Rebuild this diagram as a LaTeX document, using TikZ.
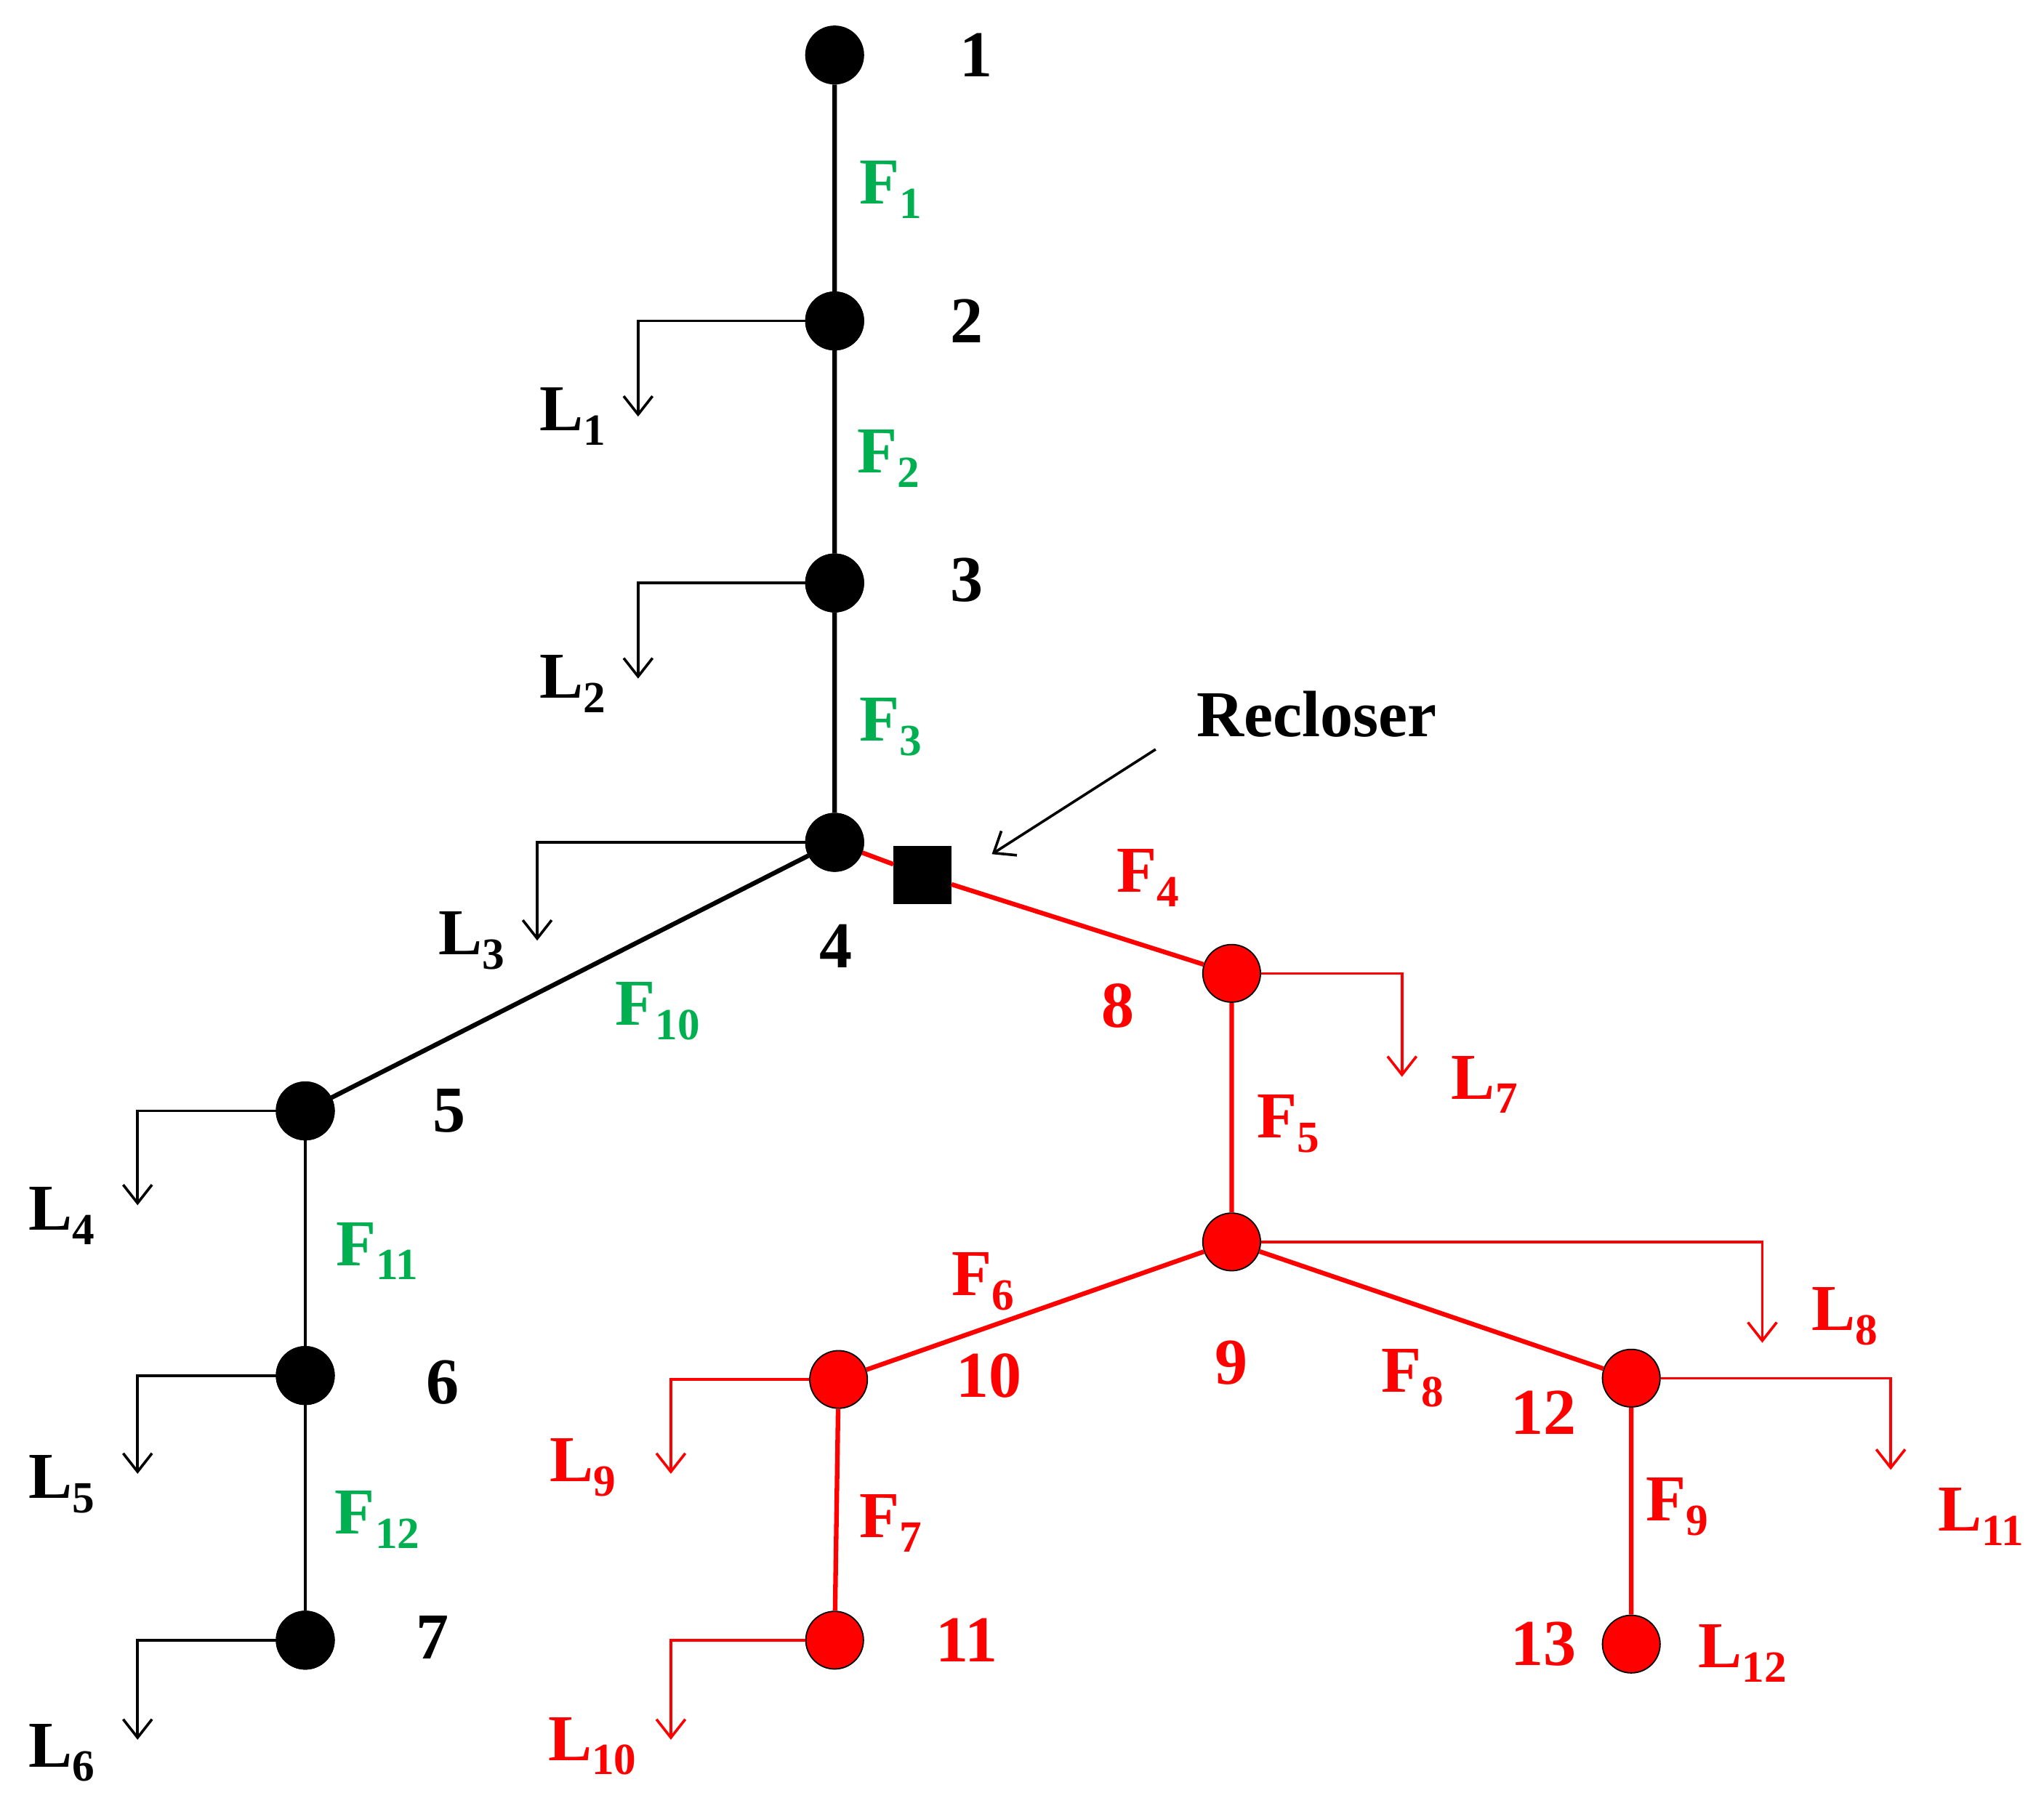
\documentclass[tikz,border=0pt]{standalone}
\usepackage{fontspec}
\setmainfont{Liberation Serif}
\usetikzlibrary{arrows.meta}
\definecolor{gr}{RGB}{0,176,80}
\definecolor{rd}{RGB}{255,0,0}
\newcommand{\lsub}[1]{\raisebox{-0.22em}{\fontsize{34}{40}\selectfont #1}}
\begin{document}
\begin{tikzpicture}[x=1pt,y=-1pt,
  bus/.style={circle,fill=black,draw=black,line width=1pt,minimum size=44pt,inner sep=0pt},
  rbus/.style={circle,fill=rd,draw=black,line width=1pt,minimum size=44pt,inner sep=0pt},
  lbl/.style={font=\fontsize{50}{60}\selectfont\bfseries,inner sep=0pt},
  main/.style={line width=3.5pt},
  load/.style={line width=2pt,-{Straight Barb[length=14pt,width=22pt,line width=2pt]}}]
\useasboundingbox (0,0) rectangle (1560,1372);
% buses
\node[bus] (n1) at (637,42) {};
\node[bus] (n2) at (637,245) {};
\node[bus] (n3) at (637,445) {};
\node[bus] (n4) at (637,643) {};
\node[bus] (n5) at (233,848) {};
\node[bus] (n6) at (233,1050) {};
\node[bus] (n7) at (233,1252) {};
\node[rbus] (n8) at (940,743) {};
\node[rbus] (n9) at (940,948) {};
\node[rbus] (n10) at (640,1053) {};
\node[rbus] (n11) at (637,1252) {};
\node[rbus] (n12) at (1245,1052) {};
\node[rbus] (n13) at (1245,1255) {};
\node[fill=black,minimum size=44pt,inner sep=0pt] (rc) at (704,668) {};
% lines
\draw[main] (n1)--(n2) (n2)--(n3) (n3)--(n4) (n4)--(n5);
\draw[line width=2pt] (n5)--(n6) (n6)--(n7);
\draw[main,rd] (n4)--(rc) (rc)--(n8) (n8)--(n9) (n9)--(n10) (n10)--(n11) (n9)--(n12) (n12)--(n13);
% loads
\coordinate (a1) at (487,318); \coordinate (a2) at (487,518); \coordinate (a3) at (410,718);
\coordinate (a4) at (105,920); \coordinate (a5) at (105,1125); \coordinate (a6) at (105,1328);
\coordinate (a7) at (1070,822); \coordinate (a8) at (1345,1025); \coordinate (a9) at (512,1125);
\coordinate (a10) at (512,1328); \coordinate (a11) at (1443,1122);
\draw[load] (n2.center) -| (a1);
\draw[load] (n3.center) -| (a2);
\draw[load] (n4.center) -| (a3);
\draw[load] (n5.center) -| (a4);
\draw[load] (n6.center) -| (a5);
\draw[load] (n7.center) -| (a6);
\draw[load,rd] (n8) -| (a7);
\draw[load,rd] (n9) -| (a8);
\draw[load,rd] (n10) -| (a9);
\draw[load,rd] (n11) -| (a10);
\draw[load,rd] (n12) -| (a11);
\node[bus] at (n2) {}; \node[bus] at (n3) {}; \node[bus] at (n4) {};
\node[bus] at (n5) {}; \node[bus] at (n6) {}; \node[bus] at (n7) {};
% recloser
\node[lbl] (rt) at (1005,545) {Recloser};
\coordinate (rs) at (882,572);
\draw[line width=2pt,-{Straight Barb[length=14pt,width=22pt,line width=2pt]}] (rs) -- (757,652);
% bus numbers
\node[lbl] (t1) at (745,42) {1};
\node[lbl] (t2) at (738,245) {2};
\node[lbl] (t3) at (738,443) {3};
\node[lbl] (t4) at (638,722) {4};
\node[lbl] (t5) at (343,848) {5};
\node[lbl] (t6) at (338,1055) {6};
\node[lbl] (t7) at (330,1250) {7};
\begin{scope}[rd]
\node[lbl] (t8) at (853,768) {8};
\node[lbl] (t9) at (940,1040) {9};
\node[lbl] (t10) at (755,1050) {10};
\node[lbl] (t11) at (738,1252) {11};
\node[lbl] (t12) at (1178,1078) {12};
\node[lbl] (t13) at (1178,1255) {13};
\end{scope}
% F labels
\begin{scope}[gr]
\node[lbl] (f1) at (680,145) {F\lsub{1}};
\node[lbl] (f2) at (678,350) {F\lsub{2}};
\node[lbl] (f3) at (680,555) {F\lsub{3}};
\node[lbl] (f10) at (502,772) {F\lsub{10}};
\node[lbl] (f11) at (288,955) {F\lsub{11}};
\node[lbl] (f12) at (288,1160) {F\lsub{12}};
\end{scope}
\begin{scope}[rd]
\node[lbl] (f4) at (876,670) {F\lsub{4}};
\node[lbl] (f5) at (983,858) {F\lsub{5}};
\node[lbl] (f6) at (750,978) {F\lsub{6}};
\node[lbl] (f7) at (680,1163) {F\lsub{7}};
\node[lbl] (f8) at (1078,1052) {F\lsub{8}};
\node[lbl] (f9) at (1280,1150) {F\lsub{9}};
\end{scope}
% L labels
\node[lbl] (l1) at (437,318) {L\lsub{1}};
\node[lbl] (l2) at (437,522) {L\lsub{2}};
\node[lbl] (l3) at (360,718) {L\lsub{3}};
\node[lbl] (l4) at (47,928) {L\lsub{4}};
\node[lbl] (l5) at (47,1133) {L\lsub{5}};
\node[lbl] (l6) at (47,1338) {L\lsub{6}};
\begin{scope}[rd]
\node[lbl] (l7) at (1133,828) {L\lsub{7}};
\node[lbl] (l8) at (1408,1005) {L\lsub{8}};
\node[lbl] (l9) at (445,1120) {L\lsub{9}};
\node[lbl] (l10) at (452,1333) {L\lsub{10}};
\node[lbl] (l11) at (1512,1158) {L\lsub{11}};
\node[lbl] (l12) at (1330,1262) {L\lsub{12}};
\end{scope}
\end{tikzpicture}
\end{document}
